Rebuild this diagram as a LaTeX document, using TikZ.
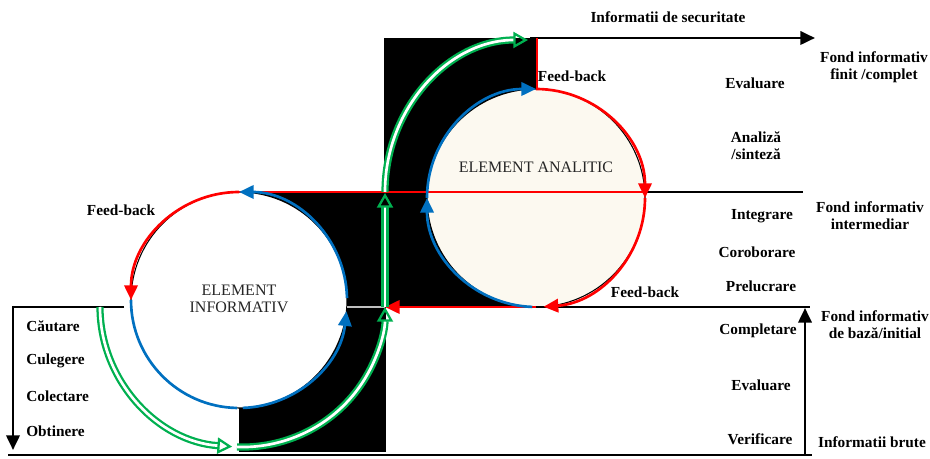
\documentclass[tikz,border=0pt]{standalone}
\usepackage{fontspec}
\setmainfont{Liberation Serif}
\usetikzlibrary{arrows.meta}
\definecolor{rosu}{RGB}{255,0,0}
\definecolor{albastru}{RGB}{0,112,192}
\definecolor{verde}{RGB}{0,176,80}
\definecolor{crem}{RGB}{252,249,240}
\begin{document}
\begin{tikzpicture}[x=0.75pt,y=0.75pt,
		eticheta/.style={font=\fontsize{11.5}{12.5}\selectfont\bfseries,align=center,inner sep=0pt},
		element/.style={font=\fontsize{12}{13}\selectfont,text=black!85,align=center,inner sep=0pt},
		linie/.style={line width=2pt},
		arc rosu/.style={rosu,line width=2pt},
		arc albastru/.style={albastru,line width=2pt},
		sageata/.style={-{Triangle[length=11pt,width=10pt]}},
		dublu/.style={draw=verde,line width=1.7pt,double=white,double distance=2pt,-{Triangle[open,length=11pt,width=12pt]}}]
		\useasboundingbox (0,0) rectangle (930,459);
		
		\coordinate (ci) at (239,159);
		\coordinate (ca) at (536,261);
		
		\fill[black] (239,7) rectangle (386,267);
		\fill[black] (384,152) rectangle (536,421);
		\filldraw[fill=white,draw=black,line width=0.8pt] (ci) circle[radius=108];
		\filldraw[fill=crem,draw=black,line width=0.8pt] (ca) circle[radius=109];
		\draw[gray!50,line width=1pt] (347,152) -- (385,152);
		
		\draw[linie] (645,267) -- (803,267);
		\draw[linie] (536,152) -- (810,152);
		\draw[linie] (124,152) -- (13,152);
		\draw[linie,sageata] (13,153) -- (13,9);
		\draw[linie] (8,4) -- (812,4);
		\draw[linie,sageata] (805,4) -- (805,151);
		\draw[linie,sageata] (530,421) -- (815,421);
		
		\draw[arc rosu] (645,267) -- (239,267);
		\draw[arc rosu,sageata] (536,152) -- (385,152);
		\draw[arc rosu] (537,421) -- (537,370);
		
		\draw[arc rosu,sageata] (ci) ++(90:108) arc[start angle=90,end angle=180,radius=108];
		\draw[arc albastru] (ci) ++(180:108) arc[start angle=180,end angle=269,radius=108];
		\draw[arc albastru,sageata] (ci) ++(272:108) arc[start angle=272,end angle=354,radius=108];
		\draw[arc albastru,sageata] (ci) ++(1:108) arc[start angle=1,end angle=90,radius=108];
		
		\draw[arc albastru,sageata] (ca) ++(268:109) arc[start angle=268,end angle=180,radius=109];
		\draw[arc albastru,sageata] (ca) ++(180:109) arc[start angle=180,end angle=90,radius=109];
		\draw[arc rosu,sageata] (ca) ++(90:109) arc[start angle=90,end angle=0,radius=109];
		\draw[arc rosu,sageata] (ca) ++(0:109) arc[start angle=0,end angle=-86,radius=109];
		
		\draw[dublu] (100,152) arc[start angle=180,end angle=266,x radius=142,y radius=140];
		\draw[dublu] (237,12) arc[start angle=268,end angle=360,x radius=143,y radius=140];
		\draw[dublu] (385,152) -- (385,266);
		\draw[dublu] (385,267) arc[start angle=180,end angle=90,x radius=143,y radius=152];
		
		\node[element] (analitic) at (536,292) {ELEMENT ANALITIC};
		\node[element] (informativ) at (239,160) {ELEMENT\\INFORMATIV};
		
		\node[eticheta] (securitate) at (668,442) {Informatii de securitate};
		\node[eticheta] (fondfinit) at (874,392) {Fond informativ\\finit /complet};
		\node[eticheta] (fondinter) at (870,243) {Fond informativ\\intermediar};
		\node[eticheta] (fondbaza) at (875,134) {Fond informativ\\de bază/initial};
		\node[eticheta] (brute) at (872,17) {Informatii brute};
		
		\node[eticheta] (evaluaresus) at (755,376) {Evaluare};
		\node[eticheta] (analiza) at (756,313) {Analiză\\/sinteză};
		\node[eticheta] (integrare) at (762,243) {Integrare};
		\node[eticheta] (coroborare) at (757,207) {Coroborare};
		\node[eticheta] (prelucrare) at (761,173) {Prelucrare};
		\node[eticheta] (completare) at (758,128) {Completare};
		\node[eticheta] (evaluarejos) at (761,74) {Evaluare};
		\node[eticheta] (verificare) at (760,20) {Verificare};
		
		\node[eticheta] (feedbacksus) at (572,383) {Feed-back};
		\node[eticheta] (feedbackjos) at (645,167) {Feed-back};
		\node[eticheta] (feedbackst) at (121,249) {Feed-back};
		
		\node[eticheta,anchor=west] (cautare) at (26,133) {Căutare};
		\node[eticheta,anchor=west] (culegere) at (26,98) {Culegere};
		\node[eticheta,anchor=west] (colectare) at (26,63) {Colectare};
		\node[eticheta,anchor=west] (obtinere) at (26,28) {Obtinere};
	\end{tikzpicture}
\end{document}
